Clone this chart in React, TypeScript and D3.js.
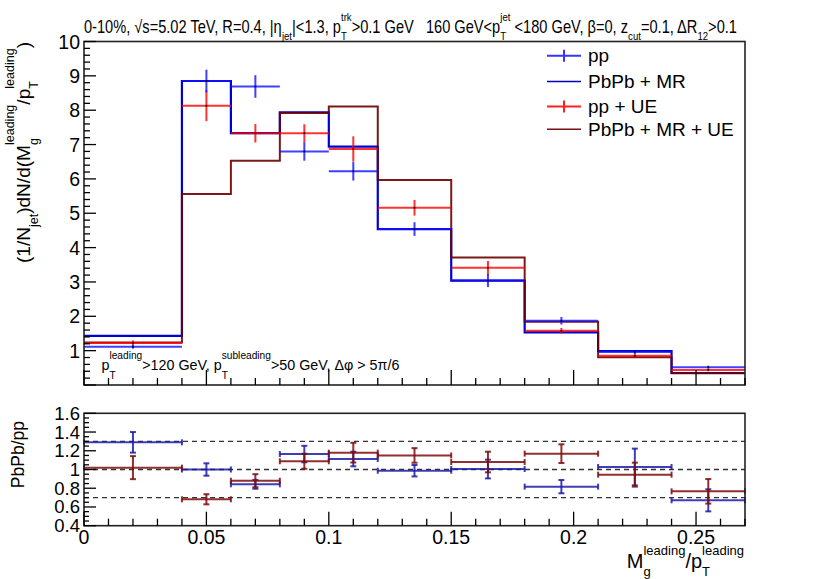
import { useEffect, useRef } from 'react';
import * as d3 from 'd3';

// bins in M_g^leading / p_T^leading
const binEdges = [0, 0.04, 0.06, 0.08, 0.1, 0.12, 0.15, 0.18, 0.21, 0.24, 0.27];

// upper panel
const ppValues = [1.11, 8.85, 8.69, 6.8, 6.22, 4.54, 3.04, 1.87, 0.96, 0.52];
const ppErrors = [0.05, 0.33, 0.33, 0.27, 0.27, 0.2, 0.19, 0.11, 0.06, 0.04];
const pbpbMR = [1.43, 8.85, 7.33, 7.94, 6.94, 4.54, 3.04, 1.53, 0.99, 0.35];
const ppUE = [1.22, 8.13, 7.33, 7.33, 6.87, 5.16, 3.41, 1.58, 0.85, 0.44];
const ppUEErrors = [0.08, 0.45, 0.27, 0.26, 0.37, 0.23, 0.2, 0.08, 0.05, 0.04];
const pbpbMRUE = [1.24, 5.56, 6.53, 7.92, 8.11, 5.97, 3.71, 1.84, 0.81, 0.34];

// lower panel ratios
const ratioMR = [1.29, 1.0, 0.842, 1.165, 1.112, 0.987, 1.005, 0.817, 1.027, 0.671];
const ratioMRErr = [0.11, 0.066, 0.047, 0.088, 0.078, 0.061, 0.1, 0.071, 0.196, 0.118];
const ratioMRUE = [1.02, 0.682, 0.88, 1.088, 1.18, 1.15, 1.08, 1.169, 0.945, 0.767];
const ratioMRUEErr = [0.123, 0.054, 0.07, 0.08, 0.105, 0.078, 0.11, 0.1, 0.128, 0.131];
const refLines = [0.7, 1.0, 1.3];

const upperYLabels = [1, 2, 3, 4, 5, 6, 7, 8, 9, 10];
const lowerYLabels = ['0.4', '0.6', '0.8', '1', '1.2', '1.4', '1.6'];
const xLabels = ['0', '0.05', '0.1', '0.15', '0.2', '0.25'];

const legendEntries = [
  { label: 'pp', kind: 'cross', color: '#3535ff' },
  { label: 'PbPb + MR', kind: 'line', color: '#0000b8' },
  { label: 'pp + UE', kind: 'cross', color: '#ff2020' },
  { label: 'PbPb + MR + UE', kind: 'line', color: '#7a1010' },
];

const FONT = '"Liberation Sans", Arial, Helvetica, sans-serif';
const W = 830;
const H = 579;

type Seg = { t?: string; sub?: string; sup?: string };
interface RichOpts {
  x: number;
  y: number;
  size: number;
  subSize: number;
  subDy: number;
  supDy: number;
  anchor?: 'start' | 'end' | 'middle';
  rotate?: number;
  fit?: number;
}

// ROOT-like text with stacked sub/superscripts
function richText(parent: d3.Selection<any, unknown, null, undefined>, segs: Seg[], o: RichOpts) {
  const g = parent.append('g').attr('transform', `translate(${o.x},${o.y}) rotate(${o.rotate ?? 0})`);
  const inner = g.append('g');
  let cx = 0;
  const add = (txt: string, x: number, y: number, size: number) =>
    inner
      .append('text')
      .attr('x', x)
      .attr('y', y)
      .attr('font-size', size)
      .attr('fill', '#000')
      .style('white-space', 'pre')
      .text(txt);
  for (const s of segs) {
    if (s.t) cx += (add(s.t, cx, 0, o.size).node() as SVGTextElement).getComputedTextLength();
    let w = 0;
    if (s.sub) w = Math.max(w, (add(s.sub, cx, o.subDy, o.subSize).node() as SVGTextElement).getComputedTextLength());
    if (s.sup) w = Math.max(w, (add(s.sup, cx, o.supDy, o.subSize).node() as SVGTextElement).getComputedTextLength());
    cx += w;
  }
  const sx = o.fit ? o.fit / cx : 1;
  const total = cx * sx;
  const shift = o.anchor === 'end' ? -total : o.anchor === 'middle' ? -total / 2 : 0;
  inner.attr('transform', `translate(${shift},0) scale(${sx},1)`);
}

function Chart() {
  const ref = useRef<SVGSVGElement>(null);

  useEffect(() => {
    if (!ref.current) return;
    const svg = d3.select(ref.current);
    svg.selectAll('*').remove();
    svg.attr('font-family', FONT);

    const x0 = 84;
    const x1 = 745;
    const upTop = 41.5;
    const upBot = 385;
    const loTop = 413.3;
    const loBot = 525.7;

    const x = d3.scaleLinear().domain([0, 0.27]).range([x0, x1]);
    const yUp = d3.scaleLinear().domain([0, 10]).range([upBot, upTop]);
    const yLo = d3.scaleLinear().domain([0.4, 1.6]).range([loBot, loTop]);
    const centers = binEdges.slice(0, -1).map((e, i) => (e + binEdges[i + 1]) / 2);

    svg.append('rect').attr('width', W).attr('height', H).attr('fill', '#fff');

    // ---------- upper panel ----------
    const up = svg.append('g');

    const stepLine = d3
      .line<[number, number]>()
      .x((d) => x(d[0]))
      .y((d) => yUp(d[1]))
      .curve(d3.curveStepAfter);
    const stepPts = (vals: number[]): [number, number][] => [
      ...vals.map((v, i) => [binEdges[i], v] as [number, number]),
      [binEdges[binEdges.length - 1], vals[vals.length - 1]],
    ];

    up.append('path')
      .attr('d', stepLine(stepPts(pbpbMR)))
      .attr('fill', 'none')
      .attr('stroke', '#0000d0')
      .attr('stroke-width', 2.2);
    up.append('path')
      .attr('d', stepLine(stepPts(pbpbMRUE)))
      .attr('fill', 'none')
      .attr('stroke', '#6a0000')
      .attr('stroke-width', 2)
      .attr('stroke-opacity', 0.9);

    const crosses = (vals: number[], errs: number[], color: string) => {
      const g = up.append('g').attr('stroke', color).attr('stroke-width', 2).attr('stroke-opacity', 0.8);
      vals.forEach((v, i) => {
        g.append('line')
          .attr('x1', x(binEdges[i]))
          .attr('x2', x(binEdges[i + 1]))
          .attr('y1', yUp(v))
          .attr('y2', yUp(v));
        g.append('line')
          .attr('x1', x(centers[i]))
          .attr('x2', x(centers[i]))
          .attr('y1', yUp(v - errs[i]))
          .attr('y2', yUp(v + errs[i]));
        up.append('rect')
          .attr('x', x(centers[i]) - 0.75)
          .attr('y', yUp(v) - 0.75)
          .attr('width', 1.5)
          .attr('height', 1.5)
          .attr('fill', '#000');
      });
    };
    crosses(ppUE, ppUEErrors, '#ff0000');
    crosses(ppValues, ppErrors, '#1010ff');

    // upper frame + ticks
    up.append('rect')
      .attr('x', x0)
      .attr('y', upTop)
      .attr('width', x1 - x0)
      .attr('height', upBot - upTop)
      .attr('fill', 'none')
      .attr('stroke', '#222')
      .attr('stroke-width', 1.6);

    const tickG = svg.append('g').attr('stroke', '#000').attr('stroke-width', 1.3);
    d3.range(0, 51).forEach((k) => {
      const v = k * 0.2;
      const major = k % 5 === 0;
      tickG.append('line')
        .attr('x1', x0)
        .attr('x2', x0 + (major ? 12 : 6))
        .attr('y1', yUp(v))
        .attr('y2', yUp(v));
    });
    upperYLabels.forEach((v) => {
      svg.append('text')
        .attr('x', 80)
        .attr('y', yUp(v) + 7)
        .attr('text-anchor', 'end')
        .attr('font-size', 19.5)
        .text(v);
    });
    d3.range(0, 28).forEach((k) => {
      const v = k * 0.01;
      const major = k % 5 === 0;
      tickG.append('line')
        .attr('x1', x(v))
        .attr('x2', x(v))
        .attr('y1', upBot)
        .attr('y2', upBot - (major ? 15 : 7));
    });

    // ---------- lower panel ----------
    const lo = svg.append('g');
    refLines.forEach((r) => {
      lo.append('line')
        .attr('x1', x0)
        .attr('x2', x1)
        .attr('y1', yLo(r))
        .attr('y2', yLo(r))
        .attr('stroke', '#333')
        .attr('stroke-width', 1.4)
        .attr('stroke-dasharray', '5,4');
    });

    const ratioBars = (vals: number[], errs: number[], color: string) => {
      const g = lo.append('g').attr('stroke', color).attr('stroke-width', 2).attr('stroke-opacity', 0.85);
      vals.forEach((v, i) => {
        const xa = x(binEdges[i]);
        const xb = x(binEdges[i + 1]);
        const xc = x(centers[i]);
        const yv = yLo(v);
        g.append('line').attr('x1', xa).attr('x2', xb).attr('y1', yv).attr('y2', yv);
        g.append('line').attr('x1', xa).attr('x2', xa).attr('y1', yv - 3).attr('y2', yv + 3);
        g.append('line').attr('x1', xb).attr('x2', xb).attr('y1', yv - 3).attr('y2', yv + 3);
        const ya = yLo(v - errs[i]);
        const yb = yLo(v + errs[i]);
        g.append('line').attr('x1', xc).attr('x2', xc).attr('y1', ya).attr('y2', yb);
        g.append('line').attr('x1', xc - 3).attr('x2', xc + 3).attr('y1', ya).attr('y2', ya);
        g.append('line').attr('x1', xc - 3).attr('x2', xc + 3).attr('y1', yb).attr('y2', yb);
      });
    };
    ratioBars(ratioMR, ratioMRErr, '#1c1ca8');
    ratioBars(ratioMRUE, ratioMRUEErr, '#7e0c0c');

    lo.append('rect')
      .attr('x', x0)
      .attr('y', loTop)
      .attr('width', x1 - x0)
      .attr('height', loBot - loTop)
      .attr('fill', 'none')
      .attr('stroke', '#222')
      .attr('stroke-width', 1.6);

    d3.range(0, 25).forEach((k) => {
      const v = 0.4 + k * 0.05;
      const major = k % 4 === 0;
      tickG.append('line')
        .attr('x1', x0)
        .attr('x2', x0 + (major ? 12 : 5))
        .attr('y1', yLo(v))
        .attr('y2', yLo(v));
    });
    lowerYLabels.forEach((s) => {
      svg.append('text')
        .attr('x', 80)
        .attr('y', yLo(+s) + 6.5)
        .attr('text-anchor', 'end')
        .attr('font-size', 18.5)
        .text(s);
    });
    d3.range(0, 28).forEach((k) => {
      const v = k * 0.01;
      const major = k % 5 === 0;
      tickG.append('line')
        .attr('x1', x(v))
        .attr('x2', x(v))
        .attr('y1', loBot)
        .attr('y2', loBot - (major ? 14 : 7));
    });
    xLabels.forEach((s) => {
      svg.append('text')
        .attr('x', x(+s))
        .attr('y', 544)
        .attr('text-anchor', 'middle')
        .attr('font-size', 19.5)
        .text(s);
    });
    tickG.raise();

    // ---------- texts ----------
    richText(
      svg,
      [
        { t: '0-10%, √s=5.02 TeV, R=0.4, |η', sub: 'jet' },
        { t: '|<1.3, p', sub: 'T', sup: 'trk' },
        { t: '>0.1 GeV   160 GeV<p', sub: 'T', sup: 'jet' },
        { t: ' <180 GeV, β=0, z', sub: 'cut' },
        { t: '=0.1, ΔR', sub: '12' },
        { t: '>0.1' },
      ],
      { x: 84, y: 32.5, size: 17.5, subSize: 11.5, subDy: 7, supDy: -11.5, fit: 653 },
    );

    richText(
      svg,
      [
        { t: 'p', sub: 'T', sup: 'leading' },
        { t: '>120 GeV, p', sub: 'T', sup: 'subleading' },
        { t: '>50 GeV, Δφ > 5π/6' },
      ],
      { x: 101.5, y: 370, size: 15.5, subSize: 11, subDy: 9, supDy: -11, fit: 298 },
    );

    richText(
      svg,
      [
        { t: '(1/N', sub: 'jet' },
        { t: ')dN/d(M', sub: 'g', sup: 'leading' },
        { t: '/p', sub: 'T', sup: 'leading' },
        { t: ')' },
      ],
      { x: 30, y: 42, size: 19, subSize: 12.5, subDy: 8, supDy: -16, anchor: 'end', rotate: -90, fit: 221 },
    );

    richText(
      svg,
      [{ t: 'M', sub: 'g', sup: 'leading' }, { t: '/p', sub: 'T', sup: 'leading' }],
      { x: 744, y: 568, size: 20, subSize: 13, subDy: 8, supDy: -13.5, anchor: 'end' },
    );

    richText(svg, [{ t: 'PbPb/pp' }], {
      x: 24,
      y: 421,
      size: 17.5,
      subSize: 12,
      subDy: 0,
      supDy: 0,
      anchor: 'end',
      rotate: -90,
    });

    // ---------- legend ----------
    const legendY = [55.7, 81.5, 106.5, 129.3];
    legendEntries.forEach((e, i) => {
      const cy = legendY[i];
      const g = svg.append('g').attr('stroke', e.color).attr('stroke-width', e.kind === 'cross' ? 2 : 1.6);
      g.append('line').attr('x1', 547).attr('x2', 581).attr('y1', cy).attr('y2', cy);
      if (e.kind === 'cross') {
        g.append('line').attr('x1', 564).attr('x2', 564).attr('y1', cy - 6).attr('y2', cy + 6);
      }
      svg.append('text')
        .attr('x', 588)
        .attr('y', cy + 6.5)
        .attr('font-size', 19)
        .text(e.label);
    });
  }, []);

  return (
    <svg
      ref={ref}
      width={W}
      height={H}
      style={{ position: 'absolute', left: 0, top: 0, display: 'block' }}
    />
  );
}

export default function App() {
  return <Chart />;
}
